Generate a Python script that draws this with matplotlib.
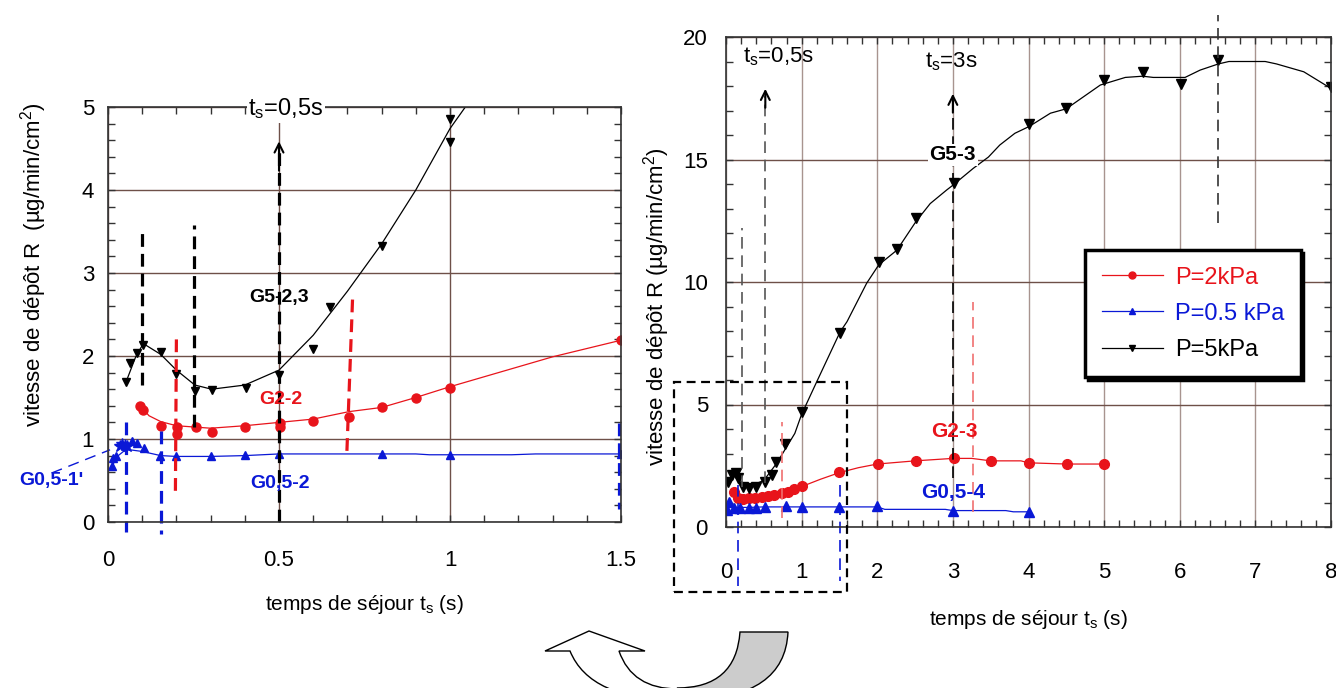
import matplotlib
matplotlib.use("Agg")
from matplotlib import pyplot as plt
from matplotlib.ticker import MultipleLocator, FormatStrFormatter
from matplotlib.patches import Rectangle, PathPatch
from matplotlib.path import Path

plt.rcParams['font.family'] = ['Liberation Sans', 'DejaVu Sans']
plt.rcParams['mathtext.fontset'] = 'custom'
plt.rcParams['mathtext.rm'] = 'Liberation Sans'
plt.rcParams['mathtext.it'] = 'Liberation Sans'
plt.rcParams['mathtext.bf'] = 'Liberation Sans:bold'

RED, BLUE, BLACK = '#e8141b', '#0a18d6', 'black'

# ---- left panel (zoom 0-1.5 s) : measured points ----
l5_t = [0.053, 0.064, 0.084, 0.103, 0.154, 0.2, 0.254, 0.303, 0.403, 0.5, 0.6, 0.65, 0.8, 1.0, 1.0]
l5_r = [1.69, 1.92, 2.04, 2.13, 2.05, 1.78, 1.58, 1.59, 1.61, 1.77, 2.08, 2.59, 3.32, 4.86, 4.58]
l2_t = [0.094, 0.103, 0.154, 0.203, 0.203, 0.256, 0.303, 0.4, 0.503, 0.503, 0.6, 0.705, 0.8, 0.9, 1.0, 1.5]
l2_r = [1.40, 1.35, 1.16, 1.14, 1.06, 1.14, 1.08, 1.14, 1.19, 1.15, 1.22, 1.27, 1.38, 1.50, 1.62, 2.19]
l05_t = [0.011, 0.014, 0.023, 0.069, 0.084, 0.106, 0.152, 0.2, 0.3, 0.4, 0.5, 0.8, 1.0, 1.5]
l05_r = [0.67, 0.77, 0.80, 0.97, 0.95, 0.89, 0.79, 0.79, 0.79, 0.81, 0.82, 0.82, 0.81, 0.82]
l05s_t = [0.035, 0.042, 0.05, 0.055]
l05s_r = [0.92, 0.94, 0.93, 0.92]
# fitted curves
l5c_t = [0.053, 0.08, 0.103, 0.154, 0.2, 0.254, 0.303, 0.4, 0.5, 0.6, 0.7, 0.8, 0.9, 1.0, 1.05]
l5c_r = [1.69, 1.98, 2.15, 2.02, 1.83, 1.65, 1.60, 1.65, 1.83, 2.25, 2.78, 3.35, 4.0, 4.74, 5.03]
l2c_t = [0.094, 0.12, 0.154, 0.2, 0.3, 0.4, 0.5, 0.6, 0.705, 0.8, 0.9, 1.0, 1.3, 1.5]
l2c_r = [1.40, 1.28, 1.21, 1.16, 1.13, 1.16, 1.20, 1.24, 1.33, 1.38, 1.50, 1.63, 1.99, 2.19]
l05c_t = [0.011, 0.03, 0.053, 0.1, 0.154, 0.2, 0.3, 0.4, 0.5, 0.6, 0.9, 0.94, 1.18, 1.25, 1.5]
l05c_r = [0.67, 0.80, 0.876, 0.85, 0.80, 0.79, 0.79, 0.80, 0.82, 0.82, 0.82, 0.81, 0.81, 0.82, 0.82]

# ---- right panel (0-8 s) ----
r5_t = [0.03, 0.075, 0.13, 0.16, 0.23, 0.3, 0.4, 0.51, 0.61, 0.66, 0.78, 1.01, 1.51, 2.02, 2.26,
        2.51, 3.01, 4.01, 4.5, 5.0, 5.51, 6.01, 6.51, 8.0]
r5_r = [1.85, 2.12, 2.19, 1.99, 1.65, 1.58, 1.65, 1.85, 2.12, 2.67, 3.39, 4.7, 7.93, 10.83, 11.33,
        12.6, 14.05, 16.45, 17.09, 18.24, 18.58, 18.08, 19.06, 17.97]
r2_t = [0.1, 0.16, 0.23, 0.3, 0.38, 0.47, 0.56, 0.64, 0.74, 0.82, 0.9, 1.0, 1.5, 2.01, 2.51, 3.01,
        3.5, 4.01, 4.51, 5.0]
r2_r = [1.44, 1.17, 1.13, 1.17, 1.2, 1.24, 1.27, 1.31, 1.38, 1.44, 1.55, 1.67, 2.23, 2.57, 2.69, 2.8,
        2.69, 2.62, 2.57, 2.57]
r05_t = [0.01, 0.04, 0.1, 0.19, 0.3, 0.4, 0.51, 0.79, 1.0, 1.5, 2.0, 3.0, 4.0]
r05_r = [0.69, 1.03, 0.76, 0.76, 0.79, 0.79, 0.82, 0.86, 0.82, 0.82, 0.84, 0.67, 0.63]
r5c_t = [0.03, 0.12, 0.2, 0.32, 0.5, 0.67, 0.91, 1.0, 1.2, 1.51, 1.6, 1.86, 2.02, 2.26, 2.51, 2.7,
         2.92, 3.0, 3.27, 3.47, 3.62, 3.82, 4.01, 4.29, 4.5, 4.95, 5.28, 5.51, 5.65, 6.07, 6.27,
         6.51, 6.65, 7.13, 7.28, 7.64, 8.0]
r5c_r = [1.85, 2.15, 1.85, 1.67, 1.9, 2.6, 3.82, 4.6, 5.93, 7.97, 8.38, 9.95, 10.7, 11.3, 12.46, 13.2,
         13.76, 13.95, 14.64, 15.1, 15.59, 16.07, 16.35, 16.89, 17.07, 18.04, 18.35, 18.4, 18.35,
         18.35, 18.65, 18.9, 19.0, 19.0, 18.9, 18.58, 17.9]
r2c_t = [0.1, 0.16, 0.23, 0.4, 0.6, 0.8, 1.0, 1.25, 1.5, 1.75, 2.0, 2.5, 3.0, 3.25, 3.5, 3.9, 4.0,
         4.5, 5.0]
r2c_r = [1.44, 1.2, 1.13, 1.18, 1.27, 1.42, 1.65, 1.95, 2.22, 2.42, 2.57, 2.7, 2.8, 2.8, 2.7, 2.7,
         2.62, 2.57, 2.57]
r05c_t = [0.01, 0.04, 0.1, 0.3, 0.5, 1.0, 2.0, 2.1, 2.9, 3.0, 3.7, 3.8, 4.0]
r05c_r = [0.69, 0.95, 0.8, 0.8, 0.82, 0.82, 0.82, 0.72, 0.72, 0.67, 0.67, 0.62, 0.62]

legend_labels = ['P=2kPa', 'P=0.5 kPa', 'P=5kPa']

fig = plt.figure(figsize=(13.36, 6.88), dpi=100)
ax1 = fig.add_axes([108/1336, 1-522/688, 513/1336, 415/688])
ax2 = fig.add_axes([726/1336, 1-527/688, 605/1336, 490/688])

def style_axes(ax, xmaj, xmin, ymaj, ymin, xpad, ypad, xgc, ygc):
    ax.xaxis.set_major_locator(MultipleLocator(xmaj))
    ax.xaxis.set_minor_locator(MultipleLocator(xmin))
    ax.yaxis.set_major_locator(MultipleLocator(ymaj))
    ax.yaxis.set_minor_locator(MultipleLocator(ymin))
    ax.xaxis.set_major_formatter(FormatStrFormatter('%g'))
    ax.yaxis.set_major_formatter(FormatStrFormatter('%g'))
    ax.tick_params(which='both', direction='in', top=True, right=True, length=5,
                   width=1, color='#333333', labelsize=16)
    ax.tick_params(axis='x', which='major', pad=xpad)
    ax.tick_params(axis='y', which='major', pad=ypad)
    for s in ax.spines.values():
        s.set_color('#333333')
        s.set_linewidth(1.2)
    ax.grid(True, axis='x', which='major', color=xgc, lw=1)
    ax.grid(True, axis='y', which='major', color=ygc, lw=1)
    ax.set_axisbelow(True)

# ---------------- left panel ----------------
ax = ax1
ax.set_xlim(0, 1.5)
ax.set_ylim(0, 5)
style_axes(ax, 0.5, 0.1, 1, 0.2, 20, 10, '#6e5048', '#6e5048')

ax.plot(l5c_t, l5c_r, color=BLACK, lw=0.9)
ax.plot(l5_t, l5_r, 'v', color=BLACK, ms=6, ls='none')
ax.plot(l2c_t, l2c_r, color=RED, lw=0.9)
ax.plot(l2_t, l2_r, 'o', color=RED, ms=6.5, ls='none')
ax.plot(l05c_t, l05c_r, color=BLUE, lw=0.9)
ax.plot(l05_t, l05_r, '^', color=BLUE, ms=6, ls='none')
ax.plot(l05s_t, l05s_r, '*', color=BLUE, ms=9, ls='none')

thick = dict(lw=2.3, ls=(0, (4, 2.2)))
ax.plot([0.1, 0.1], [1.65, 3.53], color=BLACK, **thick)
ax.plot([0.25, 0.25], [1.15, 3.58], color=BLACK, **thick)
ax.plot([0.5, 0.5], [0.0, 4.5], color=BLACK, **thick)
ax.annotate('', xy=(0.5, 4.62), xytext=(0.5, 4.2),
            arrowprops=dict(arrowstyle='->', color=BLACK, lw=1.5, mutation_scale=16))
ax.plot([0.2, 0.197], [2.2, 0.3], color=RED, **thick)
ax.plot([0.715, 0.698], [2.68, 0.79], color=RED, **thick)
ax.plot([0.053, 0.053], [1.2, -0.12], color=BLUE, clip_on=False, **thick)
ax.plot([0.154, 0.154], [1.1, -0.14], color=BLUE, clip_on=False, **thick)
ax.plot([1.495, 1.495], [1.19, 0.16], color=BLUE, **thick)
ax.plot([-0.165, 0.006], [0.59, 0.87], color=BLUE, lw=1, ls=(0, (8, 5)), clip_on=False)

ax.text(0.41, 4.98, r't$_\mathrm{s}$=0,5s', fontsize=17, ha='left', va='center',
        bbox=dict(facecolor='white', edgecolor='none', pad=1), zorder=10, clip_on=False)
ax.text(0.5, 2.7, 'G5-2,3', fontsize=14, fontweight='bold', color=BLACK, ha='center', va='center')
ax.text(0.506, 1.47, 'G2-2', fontsize=14, fontweight='bold', color=RED, ha='center', va='center')
ax.text(0.503, 0.46, 'G0,5-2', fontsize=14, fontweight='bold', color=BLUE, ha='center', va='center')
ax.text(-0.167, 0.5, "G0,5-1'", fontsize=14, fontweight='bold', color=BLUE, ha='center',
        va='center', clip_on=False)

ax.set_xlabel(r'temps de séjour t$_\mathrm{s}$ (s)', fontsize=15)
ax.xaxis.set_label_coords(0.5, -0.17)
ax.set_ylabel(r'vitesse de dépôt R  (µg/min/cm$^{2}$)', fontsize=16)
ax.yaxis.set_label_coords(-0.115, 0.62)

# ---------------- right panel ----------------
ax = ax2
ax.set_xlim(0, 8)
ax.set_ylim(0, 20)
style_axes(ax, 1, 0.2, 5, 1, 25, 13, '#a8948f', '#6e5048')

ax.plot(r2c_t, r2c_r, color=RED, lw=0.9)
ax.plot(r2_t, r2_r, 'o', color=RED, ms=7, ls='none')
ax.plot(r05c_t, r05c_r, color=BLUE, lw=0.9)
ax.plot(r05_t, r05_r, '^', color=BLUE, ms=6.5, ls='none')
ax.plot(r5c_t, r5c_r, color=BLACK, lw=0.9)
ax.plot(r5_t, r5_r, 'v', color=BLACK, ms=7, ls='none')

thin = dict(lw=1.2, ls=(0, (7, 4)))
ax.plot([0.21, 0.21], [1.65, 12.2], color='#555555', **thin)
ax.plot([0.52, 0.52], [1.8, 17.6], color='#555555', **thin)
ax.annotate('', xy=(0.52, 18.0), xytext=(0.52, 17.0),
            arrowprops=dict(arrowstyle='->', color=BLACK, lw=1.5, mutation_scale=16))
ax.plot([3.0, 3.0], [2.0, 17.4], color=BLACK, **thin)
ax.annotate('', xy=(3.0, 17.8), xytext=(3.0, 16.8),
            arrowprops=dict(arrowstyle='->', color=BLACK, lw=1.5, mutation_scale=16))
ax.plot([6.51, 6.51], [12.4, 20.9], color='#333333', clip_on=False, **thin)
ax.plot([0.745, 0.745], [0.37, 4.3], color='#f07070', **thin)
ax.plot([3.27, 3.27], [0.6, 9.2], color='#f07070', **thin)
ax.plot([0.155, 0.155], [1.7, -2.4], color=BLUE, clip_on=False, **thin)
ax.plot([1.51, 1.51], [1.7, -2.2], color=BLUE, clip_on=False, **thin)
ax.add_patch(Rectangle((-0.69, -2.67), 2.29, 8.6, fill=False, ls=(0, (4, 2.5)), lw=1.6,
                       edgecolor=BLACK, clip_on=False, zorder=5))

ax.text(0.22, 19.2, r't$_\mathrm{s}$=0,5s', fontsize=16, ha='left', va='center')
ax.text(2.63, 19.0, r't$_\mathrm{s}$=3s', fontsize=16, ha='left', va='center')
ax.text(3.0, 15.2, 'G5-3', fontsize=15, fontweight='bold', color=BLACK, ha='center', va='center',
        bbox=dict(facecolor='white', edgecolor='none', pad=1), zorder=6)
ax.text(3.02, 3.9, 'G2-3', fontsize=15, fontweight='bold', color=RED, ha='center', va='center')
ax.text(3.0, 1.4, 'G0,5-4', fontsize=15, fontweight='bold', color=BLUE, ha='center', va='center')

ax.set_xlabel(r'temps de séjour t$_\mathrm{s}$ (s)', fontsize=15)
ax.xaxis.set_label_coords(0.5, -0.165)
ax.set_ylabel(r'vitesse de dépôt R (µg/min/cm$^{2}$)', fontsize=16)
ax.yaxis.set_label_coords(-0.09, 0.45)

# legend handles with a single marker in the middle
h2, = ax.plot([], [], color=RED, lw=0.9, marker='o', ms=5)
h05, = ax.plot([], [], color=BLUE, lw=0.9, marker='^', ms=5)
h5, = ax.plot([], [], color=BLACK, lw=0.9, marker='v', ms=5)
leg = ax.legend([h2, h05, h5], legend_labels, loc='upper left',
                bbox_to_anchor=(1085/1336, 1-250/688), bbox_transform=fig.transFigure,
                borderaxespad=0, fontsize=17, labelcolor='linecolor', numpoints=1,
                handlelength=2.6, labelspacing=0.6, borderpad=0.7, handletextpad=0.5,
                fancybox=False, framealpha=1,
                shadow={'facecolor': 'black', 'edgecolor': 'black', 'alpha': 1})
leg.get_frame().set_edgecolor('black')
leg.get_frame().set_linewidth(2.5)

# curved U-turn arrow under the panels (figure pixel coords, y from top)
def fpt(x, y):
    return (x/1336, 1 - y/688)

gray = Path([fpt(740, 632), fpt(736, 688), fpt(677, 688), fpt(690, 700), fpt(785, 698),
             fpt(788, 632), fpt(740, 632)],
            [Path.MOVETO, Path.CURVE3, Path.CURVE3, Path.LINETO, Path.CURVE3, Path.CURVE3,
             Path.CLOSEPOLY])
fig.patches.append(PathPatch(gray, facecolor='#cccccc', edgecolor='black', lw=1,
                             transform=fig.transFigure, figure=fig))
white = Path([fpt(589, 631), fpt(645, 651), fpt(619, 651), fpt(632, 689), fpt(678, 689),
              fpt(678, 700), fpt(590, 700), fpt(570, 651), fpt(545, 651), fpt(589, 631)],
             [Path.MOVETO, Path.LINETO, Path.LINETO, Path.CURVE3, Path.CURVE3,
              Path.LINETO, Path.CURVE3, Path.CURVE3, Path.LINETO, Path.CLOSEPOLY])
fig.patches.append(PathPatch(white, facecolor='white', edgecolor='black', lw=1,
                             transform=fig.transFigure, figure=fig))

fig.savefig('out.png', dpi=100)
